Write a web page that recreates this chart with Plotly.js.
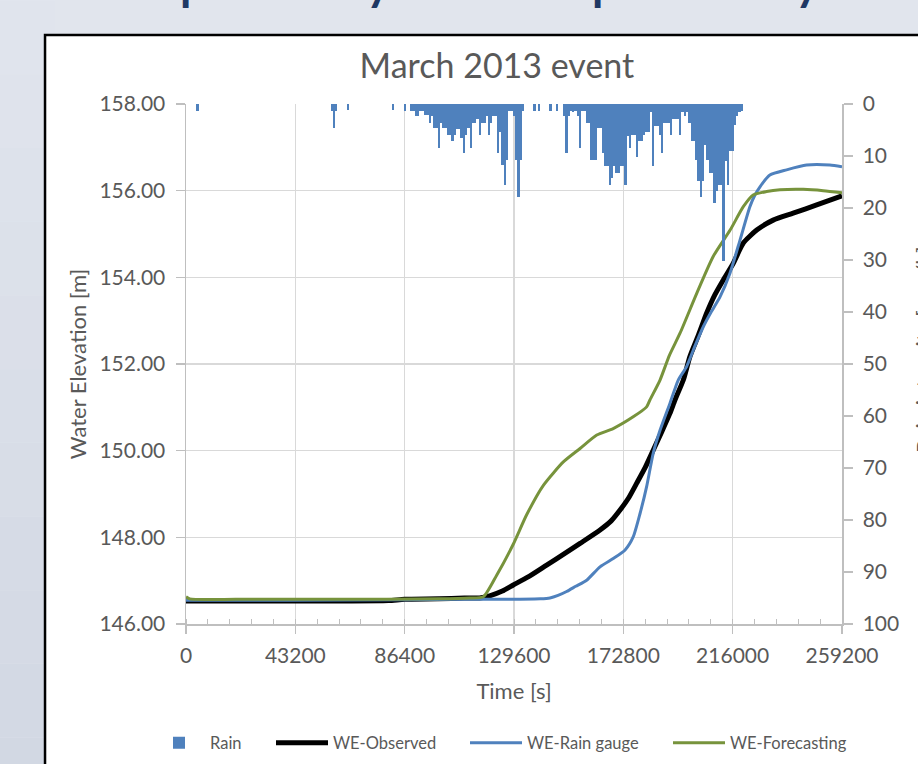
<!DOCTYPE html>
<html>
<head>
<meta charset="utf-8">
<script src="https://cdn.plot.ly/plotly-3.0.1.min.js"></script>
<style>html,body{margin:0;padding:0;background:#dde2eb;}#chart{width:918px;height:764px;}</style>
</head>
<body>
<div id="chart"></div>
<script>
// ---- data ----
const chartTitle = 'March 2013 event';
const xTitle = 'Time [s]';
const yTitle = 'Water Elevation [m]';
const y2Title = 'Rain intensity [mm/h]';
const xTickVals = [0, 43200, 86400, 129600, 172800, 216000, 259200];
const xTickText = ['0', '43200', '86400', '129600', '172800', '216000', '259200'];
const seriesNames = ['Rain', 'WE-Observed', 'WE-Rain gauge', 'WE-Forecasting'];

const obsTime = [0, 20000, 40000, 60000, 80000, 86400, 100000, 110000, 116000, 120000, 125000, 129300, 135000, 142500, 150000, 155700, 163600, 168000, 171500, 175000, 178100, 181500, 184600, 188000, 191200, 193200, 196500, 199100, 202500, 205700, 209000, 212300, 216200, 220200, 225500, 232000, 239900, 249200, 259200];
const obsElev = [146.53, 146.53, 146.53, 146.53, 146.54, 146.57, 146.58, 146.60, 146.60, 146.65, 146.76, 146.90, 147.08, 147.36, 147.64, 147.86, 148.17, 148.38, 148.63, 148.92, 149.25, 149.62, 150.01, 150.44, 150.86, 151.17, 151.63, 152.17, 152.67, 153.17, 153.60, 153.94, 154.32, 154.79, 155.09, 155.32, 155.48, 155.67, 155.88];

const gaugeTime = [0, 40000, 86400, 110000, 130000, 140000, 143800, 147000, 150400, 154000, 158300, 163600, 168800, 173500, 176700, 179400, 182000, 184600, 187300, 191200, 194500, 197800, 201000, 204400, 207500, 211000, 214900, 218900, 222800, 224800, 226800, 230700, 237300, 245200, 254400, 259200];
const gaugeElev = [146.55, 146.55, 146.56, 146.57, 146.57, 146.58, 146.60, 146.66, 146.75, 146.87, 147.01, 147.32, 147.51, 147.71, 148.01, 148.55, 149.17, 149.94, 150.47, 151.09, 151.63, 151.94, 152.40, 152.86, 153.20, 153.55, 154.09, 154.86, 155.63, 155.90, 156.09, 156.36, 156.48, 156.59, 156.59, 156.55];

const fcTime = [0, 1500, 20000, 60000, 100000, 112000, 117500, 122700, 129300, 134600, 141200, 149100, 155700, 162300, 168800, 176700, 182000, 183300, 187300, 191000, 195200, 201800, 208300, 215000, 220200, 224100, 229400, 234700, 243900, 251800, 259200];
const fcElev = [146.63, 146.58, 146.57, 146.57, 146.58, 146.60, 146.63, 147.12, 147.84, 148.52, 149.20, 149.74, 150.05, 150.36, 150.51, 150.78, 151.01, 151.17, 151.63, 152.20, 152.71, 153.63, 154.48, 155.09, 155.63, 155.90, 155.98, 156.02, 156.03, 156.00, 155.95];

const rainTime = [4500, 57600, 58500, 59400, 63900, 81900, 86400, 89100, 90000, 90900, 91800, 92700, 93600, 94500, 95400, 96300, 97200, 98100, 99000, 99900, 100800, 101700, 102600, 103500, 104400, 105300, 106200, 107100, 108000, 108900, 109800, 110700, 111600, 112500, 113400, 114300, 115200, 116100, 117000, 117900, 118800, 119700, 120600, 121500, 122400, 123300, 124200, 125100, 126000, 126900, 127800, 128700, 129600, 130500, 131400, 132300, 133200, 137700, 139500, 144000, 146700, 149400, 150300, 151200, 152100, 153000, 153900, 154800, 155700, 156600, 157500, 158400, 159300, 160200, 161100, 162000, 162900, 163800, 164700, 165600, 166500, 167400, 168300, 169200, 170100, 171000, 171900, 172800, 173700, 174600, 175500, 176400, 177300, 178200, 179100, 180000, 180900, 181800, 182700, 183600, 184500, 185400, 186300, 187200, 188100, 189000, 189900, 190800, 191700, 192600, 193500, 194400, 195300, 196200, 197100, 198000, 198900, 199800, 200700, 201600, 202500, 203400, 204300, 205200, 206100, 207000, 207900, 208800, 209700, 210600, 211500, 212400, 213300, 214200, 215100, 216000, 216900, 217800, 218700, 219600];
const rainMm = [1.3, 1.3, 4.7, 1.3, 1.2, 1.2, 1.3, 1.3, 1.3, 2.4, 2.4, 1.3, 1.3, 2.2, 2.2, 3.7, 2.4, 4.6, 4.6, 8.5, 3.7, 4.6, 4.6, 5.9, 5.9, 7.2, 5.9, 4.9, 4.9, 6.5, 9.4, 5.9, 4.6, 8.5, 3.7, 3.7, 2.8, 5.9, 3.7, 3.7, 2.4, 5.9, 3.7, 2.4, 2.4, 9.4, 5.3, 11.7, 15.6, 10.7, 1.3, 1.3, 2.4, 10.7, 17.9, 10.7, 1.3, 1.3, 1.3, 1.3, 1.3, 2.4, 9.4, 2.4, 1.3, 1.5, 1.3, 2.4, 8.5, 1.3, 1.3, 3.7, 3.7, 10.7, 10.7, 10.7, 4.6, 4.6, 9.4, 12, 12, 15.5, 14.2, 12, 13.3, 13.3, 12, 12, 15.5, 6.2, 8.5, 5.9, 5.9, 10.1, 7.2, 7.2, 5.9, 5.3, 5.3, 1.5, 12, 4.3, 4.3, 5.9, 9.4, 3.7, 3.7, 3.7, 5.9, 2.8, 2.8, 2.8, 5.9, 1.5, 2.4, 1.5, 3.7, 7.2, 7.2, 10.7, 14.9, 17.9, 14.9, 7.9, 10.7, 13.3, 13.3, 19, 16.8, 15.5, 15.5, 30.1, 11, 15.5, 9.1, 9.1, 4, 2.4, 1.5, 1.3];

// slide heading fragments (only the descenders show above the chart card)
const headingBits = ['p', 'y', 'p', 'y'];
const headingX = [0.0107, 0.294, 0.639, 0.948];

// slide background shading of the left margin (top to bottom)
const bgBands = ['#e2e6ee', '#e0e4ed', '#dfe3ec', '#dde2eb', '#dce1ea', '#dbdfe9', '#d9dee8', '#d8dde7', '#d6dbe6', '#d5dae5', '#d3d9e4', '#d2d8e3'];

// ---- chart ----
const FONT = 'Lato, "Open Sans", sans-serif';
const GREY = '#595959';
const AXIS = '#bfbfbf';
const GRID = '#d9d9d9';

const traces = [
  {type: 'bar', name: seriesNames[0], x: rainTime, y: rainMm, yaxis: 'y2', width: 900, legend: 'legend',
   marker: {color: '#4f81bd', line: {width: 0}}},
  {type: 'scatter', mode: 'lines', name: seriesNames[1], x: obsTime, y: obsElev, legend: 'legend2',
   line: {color: '#000000', width: 5, shape: 'spline', smoothing: 0.6}},
  {type: 'scatter', mode: 'lines', name: seriesNames[2], x: gaugeTime, y: gaugeElev, legend: 'legend3',
   line: {color: '#4f81bd', width: 3, shape: 'spline', smoothing: 0.6}},
  {type: 'scatter', mode: 'lines', name: seriesNames[3], x: fcTime, y: fcElev, legend: 'legend4',
   line: {color: '#77933c', width: 3, shape: 'spline', smoothing: 0.6}}
];

const annotations = headingBits.map((t, i) => ({
  text: t, xref: 'paper', yref: 'paper', x: headingX[i], y: 1.177,
  xanchor: 'center', yanchor: 'bottom', showarrow: false,
  font: {family: FONT, size: 46, color: '#1f3864', weight: 'bold'}
}));
// right-axis title, mostly beyond the right edge of the picture
annotations.push({
  text: y2Title, xref: 'paper', yref: 'paper', x: 1.125, y: 0.527,
  xanchor: 'center', yanchor: 'middle', textangle: -90, showarrow: false,
  font: {family: FONT, size: 22, color: GREY}
});

function legendAt(px) {
  return {orientation: 'h', xref: 'container', yref: 'container', x: px / 918, xanchor: 'left',
          y: 1 - 743 / 764, yanchor: 'middle', itemwidth: 52,
          font: {family: FONT, size: 16.5, color: GREY}, bgcolor: 'rgba(0,0,0,0)'};
}

const bandH = 1.7 / bgBands.length;
const shapes = bgBands.map((c, i) => ({
  type: 'rect', xref: 'paper', yref: 'paper', layer: 'below',
  x0: -0.3, x1: -0.2, y0: 1.34 - (i + 1) * bandH, y1: 1.34 - i * bandH,
  fillcolor: c, line: {width: 0}
}));
shapes.push({type: 'rect', xref: 'paper', yref: 'paper', x0: -0.2149, x1: 1.25, y0: -0.4, y1: 1.1327,
             fillcolor: '#ffffff', line: {color: '#000000', width: 2.5}, layer: 'below'});

const layout = {
  width: 918, height: 764,
  margin: {l: 186, r: 76, t: 104, b: 140, pad: 0, autoexpand: false},
  paper_bgcolor: '#e1e5ed',
  plot_bgcolor: '#ffffff',
  font: {family: FONT, color: GREY, size: 21},
  title: {text: chartTitle, font: {family: FONT, size: 34, color: GREY},
          x: 0.474, xref: 'paper', y: 0.9136, yref: 'container', xanchor: 'center', yanchor: 'middle'},
  bargap: 0,
  showlegend: true,
  legend: legendAt(148),
  legend2: legendAt(271),
  legend3: legendAt(465),
  legend4: legendAt(668),
  xaxis: {range: [0, 259200], tickmode: 'array', tickvals: xTickVals, ticktext: xTickText,
          showgrid: true, gridcolor: GRID, gridwidth: 1.3, zeroline: false,
          showline: true, linecolor: AXIS, linewidth: 1.5,
          ticks: 'outside', ticklen: 8, tickcolor: AXIS, tickwidth: 1.5, ticklabelstandoff: 4,
          minor: {tickmode: 'linear', tick0: 0, dtick: 8640, ticks: 'inside', ticklen: 5, tickcolor: AXIS, tickwidth: 1, showgrid: false},
          tickfont: {size: 21, color: GREY},
          title: {text: xTitle, font: {size: 22, color: GREY}, standoff: 18},
          automargin: false},
  yaxis: {range: [146, 158], dtick: 2, tick0: 146, tickformat: '.2f',
          showgrid: true, gridcolor: GRID, gridwidth: 1.3, zeroline: false,
          showline: true, linecolor: AXIS, linewidth: 1.5,
          ticks: 'outside', ticklen: 9, tickcolor: AXIS, tickwidth: 1.5, ticklabelstandoff: 6,
          tickfont: {size: 21, color: GREY},
          title: {text: yTitle, font: {size: 22, color: GREY}, standoff: 6},
          automargin: false},
  yaxis2: {overlaying: 'y', side: 'right', range: [100, 0], dtick: 10, tick0: 0, tickformat: 'd',
           showgrid: false, zeroline: false, showline: true, linecolor: AXIS, linewidth: 1.5,
           ticks: 'outside', ticklen: 9, tickcolor: AXIS, tickwidth: 1.5, ticklabelstandoff: 6,
           tickfont: {size: 21, color: GREY},
           automargin: false},
  shapes: shapes,
  annotations: annotations
};

Plotly.newPlot('chart', traces, layout, {displayModeBar: false, staticPlot: true});
</script>
</body>
</html>
